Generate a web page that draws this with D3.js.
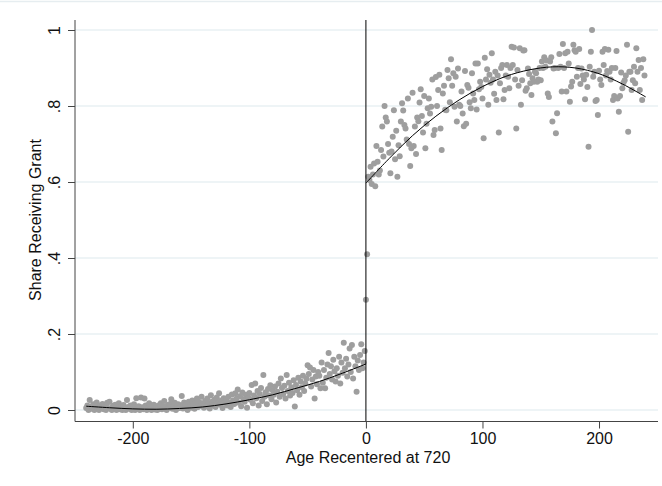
<!DOCTYPE html>
<html>
<head>
<meta charset="utf-8">
<script src="https://cdn.jsdelivr.net/npm/d3@7"></script>
<style>
  body { margin: 0; background: #fff; }
  svg { display: block; font-family: "Liberation Sans", Arial, sans-serif; }
</style>
</head>
<body>
<svg width="662" height="486"></svg>
<script>
// share receiving grant, one value per day of age (recentered at 720)
const leftStart = -240;
const leftShare = [
  0.005, 0.012, 0.0, 0.026, 0.008, 0.003, 0.015, 0.0, 0.01, 0.02, 0.004, 0.0, 0.012, 0.006, 0.016, 0.002, 0.009, 0.0, 0.019, 0.005,
  0.022, 0.003, 0.0, 0.011, 0.007, 0.014, 0.0, 0.004, 0.018, 0.002, 0.009, 0.0, 0.013, 0.005, 0.0, 0.026, 0.008, 0.003, 0.012, 0.0,
  0.006, 0.015, 0.0, 0.031, 0.004, 0.01, 0.0, 0.033, 0.007, 0.002, 0.03, 0.012, 0.0, 0.005, 0.018, 0.003, 0.0, 0.009, 0.014, 0.001,
  0.007, 0.0, 0.012, 0.004, 0.018, 0.002, 0.009, 0.024, 0.005, 0.0, 0.013, 0.006, 0.016, 0.028, 0.003, 0.01, 0.019, 0.0, 0.008, 0.015,
  0.005, 0.012, 0.037, 0.004, 0.02, 0.009, 0.015, 0.0, 0.022, 0.011, 0.006, 0.025, 0.014, 0.003, 0.018, 0.03, 0.008, 0.021, 0.012, 0.035,
  0.016, 0.006, 0.024, 0.01, 0.03, 0.018, 0.004, 0.039, 0.022, 0.012, 0.027, 0.008, 0.033, 0.019, 0.044, 0.014, 0.025, 0.005, 0.031, 0.02,
  0.028, 0.012, 0.035, 0.02, 0.008, 0.041, 0.025, 0.016, 0.044, 0.03, 0.054, 0.019, 0.036, 0.01, 0.046, 0.028, 0.022, 0.04, 0.006, 0.033,
  0.045, 0.027, 0.066, 0.018, 0.038, 0.07, 0.031, 0.05, 0.012, 0.042, 0.058, 0.024, 0.092, 0.035, 0.047, 0.015, 0.055, 0.038, 0.065, 0.028,
  0.052, 0.04, 0.062, 0.02, 0.048, 0.07, 0.035, 0.083, 0.058, 0.042, 0.064, 0.03, 0.092, 0.05, 0.072, 0.038, 0.06, 0.045, 0.078, 0.009,
  0.066, 0.052, 0.085, 0.04, 0.075, 0.06, 0.09, 0.05, 0.07, 0.082, 0.118, 0.095, 0.112, 0.062, 0.08, 0.105, 0.03, 0.088, 0.068, 0.1,
  0.09, 0.057, 0.125, 0.072, 0.105, 0.057, 0.085, 0.12, 0.15, 0.095, 0.115, 0.08, 0.132, 0.102, 0.075, 0.11, 0.09, 0.14, 0.07, 0.125,
  0.098, 0.177, 0.11, 0.135, 0.088, 0.12, 0.162, 0.1, 0.171, 0.083, 0.14, 0.115, 0.048, 0.13, 0.105, 0.145, 0.173, 0.11, 0.125, 0.155
];

const rightStart = 0;
const rightShare = [
  0.29, 0.41, 0.614, 0.605, 0.64, 0.595, 0.62, 0.649, 0.589, 0.695, 0.653, 0.62, 0.63, 0.684, 0.746, 0.667, 0.8, 0.77, 0.759, 0.7,
  0.677, 0.623, 0.68, 0.719, 0.789, 0.66, 0.735, 0.614, 0.697, 0.668, 0.759, 0.807, 0.788, 0.75, 0.741, 0.712, 0.82, 0.7, 0.642, 0.689,
  0.835, 0.695, 0.746, 0.674, 0.77, 0.76, 0.809, 0.844, 0.774, 0.73, 0.826, 0.689, 0.753, 0.794, 0.82, 0.78, 0.798, 0.87, 0.724, 0.737,
  0.876, 0.8, 0.842, 0.882, 0.741, 0.684, 0.833, 0.853, 0.79, 0.789, 0.895, 0.873, 0.81, 0.923, 0.853, 0.886, 0.798, 0.877, 0.759, 0.899,
  0.803, 0.8, 0.838, 0.78, 0.747, 0.892, 0.753, 0.855, 0.848, 0.81, 0.794, 0.886, 0.833, 0.816, 0.912, 0.791, 0.912, 0.844, 0.864, 0.85,
  0.82, 0.715, 0.927, 0.87, 0.897, 0.803, 0.882, 0.861, 0.939, 0.87, 0.832, 0.89, 0.816, 0.88, 0.73, 0.86, 0.9, 0.908, 0.818, 0.842,
  0.88, 0.908, 0.877, 0.847, 0.9, 0.956, 0.908, 0.954, 0.87, 0.741, 0.895, 0.853, 0.952, 0.803, 0.868, 0.946, 0.947, 0.84, 0.847, 0.899,
  0.884, 0.86, 0.829, 0.873, 0.864, 0.89, 0.886, 0.864, 0.87, 0.9, 0.868, 0.917, 0.9, 0.928, 0.903, 0.92, 0.833, 0.824, 0.917, 0.928,
  0.759, 0.899, 0.9, 0.728, 0.781, 0.9, 0.937, 0.903, 0.838, 0.963, 0.9, 0.939, 0.838, 0.943, 0.912, 0.811, 0.851, 0.864, 0.961, 0.947,
  0.943, 0.877, 0.9, 0.95, 0.858, 0.899, 0.88, 0.87, 0.818, 0.882, 0.85, 0.693, 0.903, 0.943, 1.0, 0.877, 0.89, 0.813, 0.816, 0.776,
  0.893, 0.87, 0.855, 0.943, 0.908, 0.95, 0.88, 0.892, 0.948, 0.89, 0.87, 0.9, 0.816, 0.826, 0.9, 0.945, 0.82, 0.785, 0.826, 0.888,
  0.847, 0.861, 0.868, 0.88, 0.961, 0.732, 0.89, 0.89, 0.842, 0.868, 0.903, 0.86, 0.952, 0.89, 0.921, 0.842, 0.9, 0.816, 0.923, 0.88
];

// fitted polynomial
const fitLeftAge = [-240, -220, -200, -180, -160, -140, -120, -100, -80, -60, -40, -20, 0];
const fitLeft = [0.010, 0.006, 0.003, 0.002, 0.004, 0.008, 0.016, 0.027, 0.040, 0.057, 0.075, 0.097, 0.121];
const fitRightAge = [0, 20, 40, 60, 80, 100, 120, 140, 160, 180, 200, 220, 240];
const fitRight = [0.597, 0.662, 0.722, 0.773, 0.816, 0.851, 0.878, 0.895, 0.903, 0.900, 0.885, 0.858, 0.824];

const xTicks = [-200, -100, 0, 100, 200];
const xTickLabels = ['-200', '-100', '0', '100', '200'];
const yTicks = [0, 0.2, 0.4, 0.6, 0.8, 1];
const yTickLabels = ['0', '.2', '.4', '.6', '.8', '1'];

const svg = d3.select('svg');

const x = d3.scaleLinear().domain([-249.6, 250.6]).range([75, 658]);
const y = d3.scaleLinear().domain([0, 1]).range([410, 30]);
const plotTop = 20, plotBottom = 421.5;

// faint outer frame line at top
svg.append('line')
  .attr('x1', 0).attr('x2', 662).attr('y1', 1.5).attr('y2', 1.5)
  .attr('stroke', '#e6edf0').attr('stroke-width', 1.5);

// gridlines
svg.append('g')
  .selectAll('line')
  .data(yTicks)
  .enter()
  .append('line')
  .attr('x1', 75).attr('x2', 658)
  .attr('y1', d => y(d)).attr('y2', d => y(d))
  .attr('stroke', '#e8f0f3')
  .attr('stroke-width', 1.5);

// points
const pts = leftShare.map((v, i) => ({age: leftStart + i, share: v}))
  .concat(rightShare.map((v, i) => ({age: rightStart + i, share: v})));

svg.append('g')
  .selectAll('circle')
  .data(pts)
  .enter()
  .append('circle')
  .attr('cx', d => x(d.age))
  .attr('cy', d => y(d.share))
  .attr('r', 3)
  .attr('fill', '#9e9e9e');

// cutoff line
svg.append('line')
  .attr('x1', x(0)).attr('x2', x(0))
  .attr('y1', plotTop).attr('y2', plotBottom)
  .attr('stroke', '#000').attr('stroke-width', 1);

// fitted lines
const line = d3.line()
  .x(d => x(d[0]))
  .y(d => y(d[1]))
  .curve(d3.curveCatmullRom);

svg.append('path')
  .datum(fitLeftAge.map((a, i) => [a, fitLeft[i]]))
  .attr('d', line)
  .attr('fill', 'none').attr('stroke', '#000').attr('stroke-width', 1);

svg.append('path')
  .datum(fitRightAge.map((a, i) => [a, fitRight[i]]))
  .attr('d', line)
  .attr('fill', 'none').attr('stroke', '#000').attr('stroke-width', 1);

// axes
const xAxis = svg.append('g').attr('transform', `translate(0,${plotBottom})`)
  .call(d3.axisBottom(x).tickValues(xTicks).tickSize(7).tickPadding(4).tickFormat((d, i) => xTickLabels[i]));
const yAxis = svg.append('g').attr('transform', 'translate(75,0)')
  .call(d3.axisLeft(y).tickValues(yTicks).tickSize(7).tickFormat((d, i) => yTickLabels[i]));

xAxis.select('.domain').attr('d', 'M75,0H658').attr('stroke', '#444');
yAxis.select('.domain').attr('d', `M0,${plotTop}V${plotBottom}`).attr('stroke', '#444');
svg.selectAll('.tick line').attr('stroke', '#444');

xAxis.selectAll('text')
  .attr('font-size', 16)
  .attr('fill', '#111')
  .attr('font-family', '"Liberation Sans", Arial, sans-serif');

yAxis.selectAll('text')
  .attr('font-size', 16)
  .attr('fill', '#111')
  .attr('font-family', '"Liberation Sans", Arial, sans-serif')
  .attr('text-anchor', 'middle')
  .attr('x', null).attr('dy', null)
  .attr('transform', 'translate(-15,0) rotate(-90)');

// titles
svg.append('text')
  .attr('x', 368).attr('y', 463)
  .attr('text-anchor', 'middle')
  .attr('font-size', 16)
  .attr('fill', '#111')
  .text('Age Recentered at 720');

svg.append('text')
  .attr('transform', 'translate(41,220) rotate(-90)')
  .attr('text-anchor', 'middle')
  .attr('font-size', 16)
  .attr('fill', '#111')
  .text('Share Receiving Grant');
</script>
</body>
</html>
